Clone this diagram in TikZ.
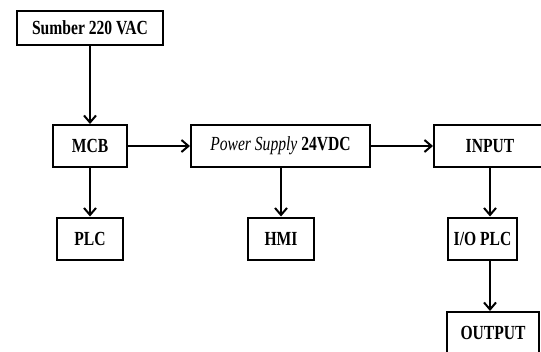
\documentclass[tikz,border=0pt]{standalone}
\usepackage{fontspec}
\setmainfont{Liberation Serif}
\newfontfamily\boxfont{Liberation Serif}[FakeStretch=0.78]
\usetikzlibrary{arrows.meta}

\begin{document}
\begin{tikzpicture}[x=1pt, y=-1pt, line width=2.0pt, line join=miter,
  blok/.style={draw, rectangle, inner sep=0pt, minimum height=42pt,
    font=\boxfont\fontsize{20}{23}\selectfont\bfseries},
  panah/.style={-{Straight Barb[length=7pt,width=12pt,line width=2pt]}}]

  %% ════ kanvas ════
  \path[use as bounding box] (0,0) rectangle (541,351);
  \clip (0,0) rectangle (541,351);

  %% ════ blok ════
  \node[blok, minimum width=146pt, minimum height=34pt] (sumber) at (90,28) {Sumber 220 VAC};
  \node[blok, minimum width=74pt]  (mcb)   at (90,146)    {MCB};
  \node[blok, minimum width=179pt] (ps)    at (280.5,146) {\textit{\mdseries Power Supply} 24VDC};
  \node[blok, minimum width=112pt] (inp)   at (490,146)   {INPUT};
  \node[blok, minimum width=66pt]  (plc)   at (90,238.5)  {PLC};
  \node[blok, minimum width=66pt]  (hmi)   at (281,238.5) {HMI};
  \node[blok, minimum width=69pt]  (io)    at (482.5,238.5) {I/O PLC};
  \node[blok, minimum width=92pt]  (out)   at (493,333)   {OUTPUT};

  %% ════ panah ════
  \draw[panah] (sumber.south) -- (mcb.north);
  \draw[panah] (mcb.east) -- (ps.west);
  \draw[panah] (ps.east) -- (inp.west);
  \draw[panah] (mcb.south) -- (plc.north);
  \draw[panah] (ps.south -| hmi.north) -- (hmi.north);
  \draw[panah] (inp.south) -- (inp.south |- io.north);
  \draw[panah] (inp.south |- io.south) -- (inp.south |- out.north);
\end{tikzpicture}
\end{document}
